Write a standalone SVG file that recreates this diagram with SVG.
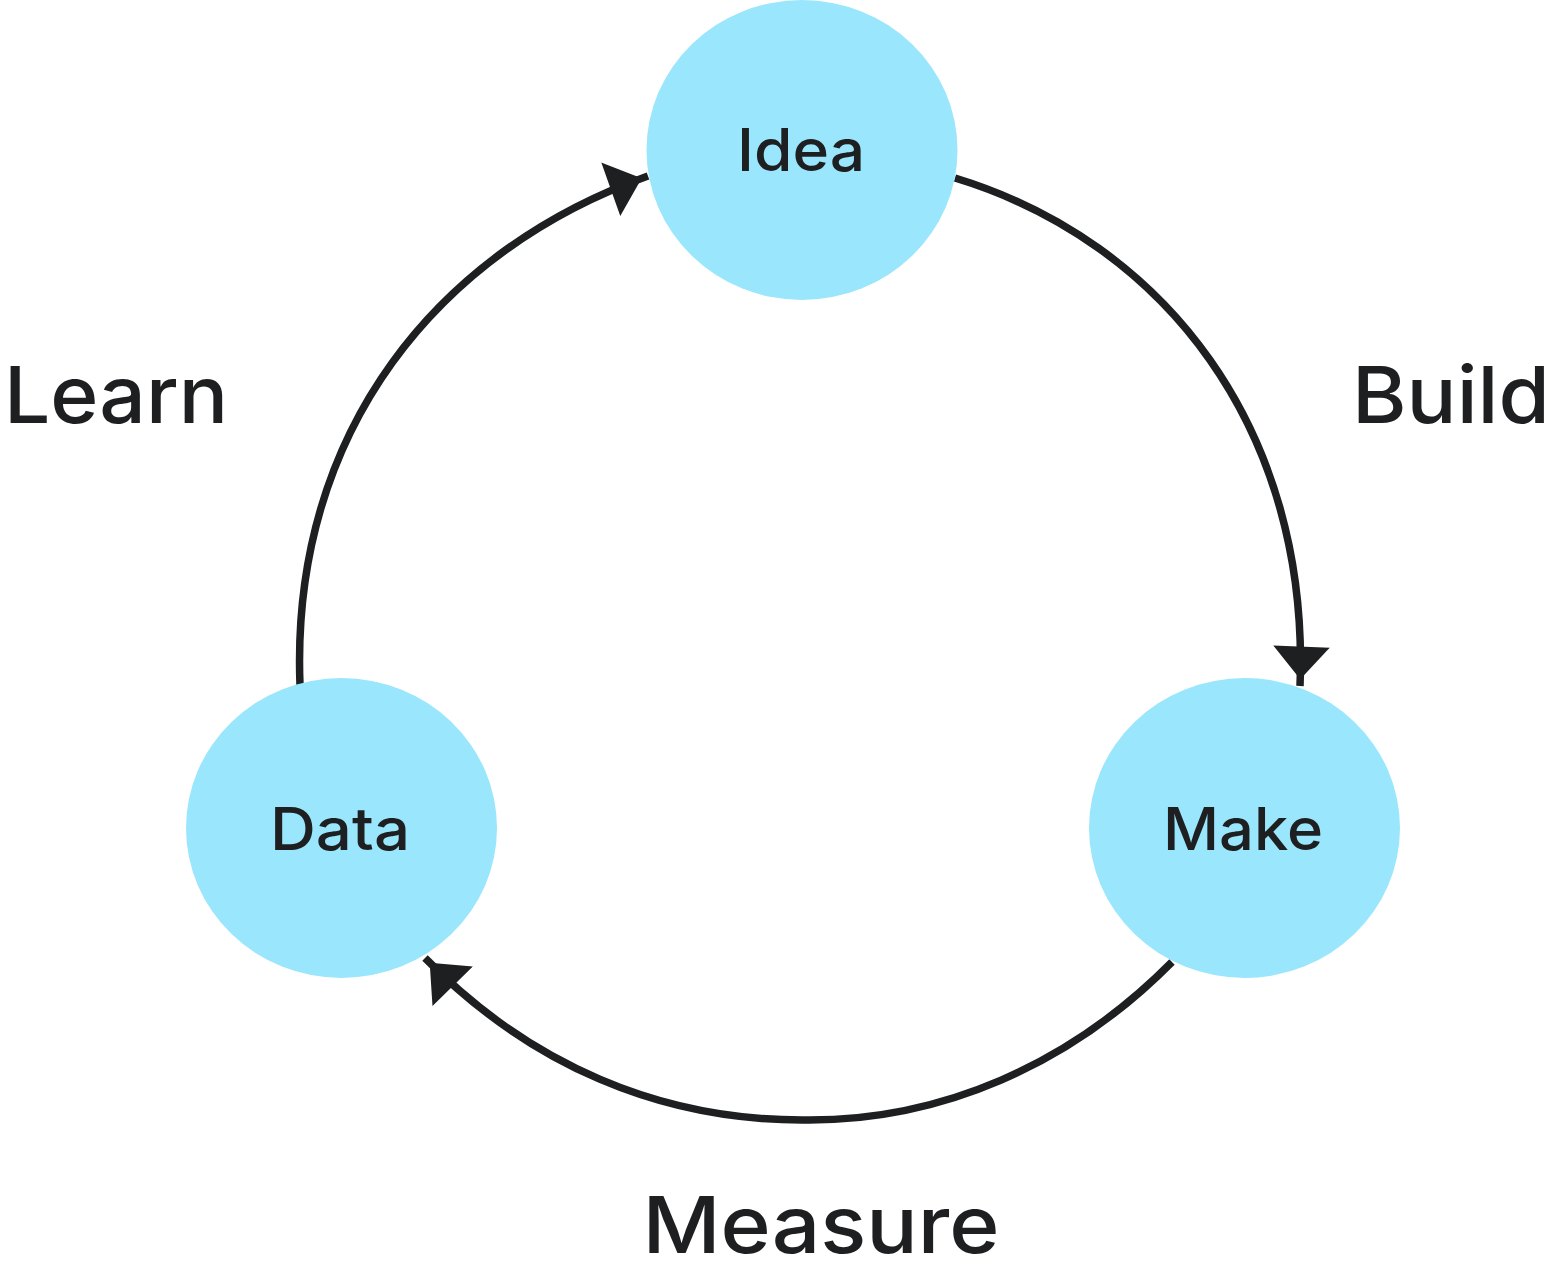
<svg xmlns="http://www.w3.org/2000/svg" width="1558" height="1287" viewBox="0 0 1558 1287">
<style>
.node{fill:#9ae6fd;}
.nl{font-family:Inter,"Liberation Sans",sans-serif;font-size:59px;fill:#1e1f21;text-anchor:middle;font-weight:500;}
.el{font-family:Inter,"Liberation Sans",sans-serif;font-size:79px;fill:#1e1f21;text-anchor:middle;font-weight:500;}
.edge{fill:none;stroke:#1e1f21;stroke-width:7.5;}
</style>
<defs>
<marker id="arr" markerUnits="userSpaceOnUse" viewBox="0 0 60 60" refX="40" refY="30" markerWidth="60" markerHeight="60" orient="auto">
<path d="M2,5 L31,30 L2,55 Z" fill="#1e1f21" stroke="#1e1f21" stroke-width="3" stroke-linejoin="miter"/>
</marker>
</defs>
<rect width="1558" height="1287" fill="#ffffff"/>
<g id="connectors">
<path class="edge" d="M955,178 C1165,242 1310,430 1300,686" marker-end="url(#arr)"/>
<path class="edge" d="M1172,962 C1070,1065 940,1122 802,1120 C660,1120 530,1065 425,958" marker-end="url(#arr)"/>
<path class="edge" d="M300,685 C290,430 440,250 648,176" marker-end="url(#arr)"/>
</g>
<g id="node-idea"><ellipse class="node" cx="802" cy="150" rx="155.5" ry="150"/><text class="nl" x="801" y="171" textLength="128" lengthAdjust="spacingAndGlyphs">Idea</text></g>
<g id="node-make"><ellipse class="node" cx="1244.5" cy="828" rx="155.5" ry="150"/><text class="nl" x="1243" y="850" textLength="160" lengthAdjust="spacingAndGlyphs">Make</text></g>
<g id="node-data"><ellipse class="node" cx="341.5" cy="828" rx="155.5" ry="150"/><text class="nl" x="340" y="850" textLength="140" lengthAdjust="spacingAndGlyphs">Data</text></g>
<g id="label-learn"><text class="el" x="116" y="423" textLength="224" lengthAdjust="spacingAndGlyphs">Learn</text></g>
<g id="label-build"><text class="el" x="1451" y="423" textLength="198" lengthAdjust="spacingAndGlyphs">Build</text></g>
<g id="label-measure"><text class="el" x="821" y="1253" textLength="357" lengthAdjust="spacingAndGlyphs">Measure</text></g>
</svg>
